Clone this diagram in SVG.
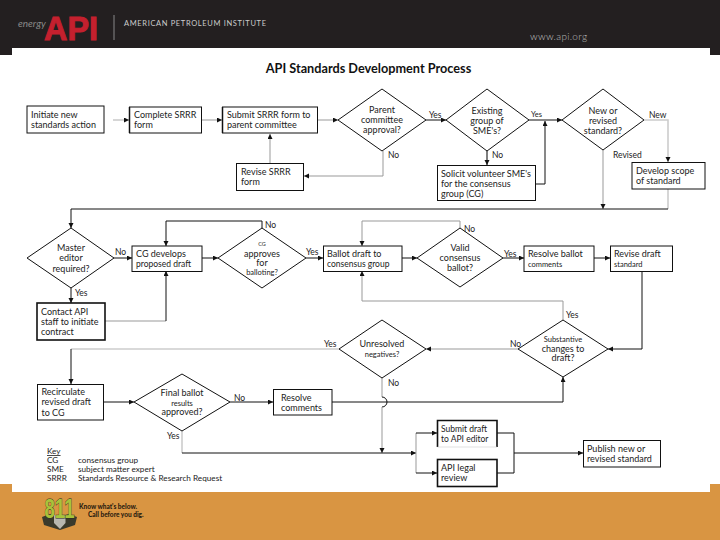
<svg xmlns="http://www.w3.org/2000/svg" width="720" height="540" viewBox="0 0 720 540">
<style>
text{font-family:"Lato","Liberation Sans",sans-serif;font-size:9px;fill:#222}
.n rect,.n polygon{fill:#fff;stroke:#111;stroke-width:1}
.n .t{stroke-width:1.6}
.m{text-anchor:middle}
.s{font-size:7.5px}
.lb{font-size:8.5px}
.k{font-size:8.2px}
#connectors path{fill:none;stroke:#111;stroke-width:1}
#connectors path.g{stroke:#999}
#connectors path.l{stroke:#ccc;stroke-width:1.6}
#connectors path.d{stroke:#555;stroke-width:1.5}
</style>
<defs>
<marker id="a" markerUnits="userSpaceOnUse" markerWidth="6" markerHeight="6" refX="5" refY="2.5" orient="auto"><path d="M0 0L5 2.500L0 5z" fill="#111"/></marker>
</defs>
<rect width="720" height="55" fill="#231f20"/>
<rect y="484" width="720" height="56" fill="#d99542"/>
<rect x="12" y="48" width="698" height="444" fill="#fff"/>
<g id="header">
<text x="18" y="27" style="font-size:10px;font-style:italic;fill:#8a8a8a">energy</text>
<text x="44" y="40" textLength="54" lengthAdjust="spacingAndGlyphs" style="font-family:'Liberation Sans',sans-serif;font-size:34px;font-weight:bold;fill:#c4202e;stroke:#c4202e;stroke-width:1px">API</text>
<path d="M114 15V40" stroke="#888" stroke-width="1"/>
<text x="124" y="26" textLength="142" style="font-size:7.500px;fill:#ccc">AMERICAN PETROLEUM INSTITUTE</text>
<text x="530" y="40" textLength="57" style="font-size:10px;font-weight:300;fill:#bbb">www.api.org</text>
</g>
<text x="368.500" y="73" class="m" style="font-size:12.700px;font-weight:bold;fill:#111">API Standards Development Process</text>
<g id="connectors">
<path class="l" d="M113 120H129" marker-end="url(#a)"/>
<path class="g" d="M202 120H222" marker-end="url(#a)"/>
<path class="g" d="M317 120H338" marker-end="url(#a)"/>
<path class="g" d="M270 163V134" marker-end="url(#a)"/>
<path class="g" d="M383 151V176H304" marker-end="url(#a)"/>
<path d="M426 120H446" marker-end="url(#a)"/>
<path d="M529 120H562" marker-end="url(#a)"/>
<path d="M536 184H545V121" marker-end="url(#a)"/>
<path class="d" d="M487 151V165" marker-end="url(#a)"/>
<path class="l" d="M644 120H668V162" marker-end="url(#a)"/>
<path class="l" d="M668 189V209"/>
<path class="g" d="M603 150V209" marker-end="url(#a)"/>
<path d="M668 209H71V228" marker-end="url(#a)"/>
<path d="M114 258H132" marker-end="url(#a)"/>
<path d="M71 288V303" marker-end="url(#a)"/>
<path class="g" d="M105 321H166"/>
<path d="M166 321V271" marker-end="url(#a)"/>
<path d="M202 258H218" marker-end="url(#a)"/>
<path d="M262 228V221H166V246" marker-end="url(#a)"/>
<path d="M306 258H323" marker-end="url(#a)"/>
<path d="M402 258H417" marker-end="url(#a)"/>
<path class="g" d="M460 228V221H362V246" marker-end="url(#a)"/>
<path d="M503 258H524" marker-end="url(#a)"/>
<path d="M594 258H610" marker-end="url(#a)"/>
<path d="M642 271V349H608" marker-end="url(#a)"/>
<path class="g" d="M563 320V301H362V271" marker-end="url(#a)"/>
<path class="g" d="M518 349H426" marker-end="url(#a)"/>
<path class="l" d="M339 349H71"/>
<path d="M71 349V384" marker-end="url(#a)"/>
<path d="M104 402H134" marker-end="url(#a)"/>
<path d="M230 402H273" marker-end="url(#a)"/>
<path d="M332 402H563V377" marker-end="url(#a)"/>
<path class="g" d="M382 378V397"/>
<path style="stroke:#111" d="M382 397A5 5 0 0 1 382 407"/>
<path class="g" d="M382 407V453" marker-end="url(#a)"/>
<path class="l" d="M182 431V453"/>
<path d="M182 453H416" marker-end="url(#a)"/>
<path class="g" d="M416 433V473"/>
<path d="M416 433H437" marker-end="url(#a)"/>
<path d="M416 473H437" marker-end="url(#a)"/>
<path d="M497 433H514V473H497"/>
<path d="M514 453H583" marker-end="url(#a)"/>
</g>
<g id="n1" class="n"><rect x="27" y="106" width="77" height="27"/><text x="31" y="118">Initiate new</text><text x="31" y="128">standards action</text></g>
<g id="n2" class="n"><rect x="129.500" y="107" width="72" height="26"/><path d="M129.500 107V133" stroke="#111" stroke-width="1.500"/><text x="134" y="118">Complete SRRR</text><text x="134" y="128">form</text></g>
<g id="n3" class="n"><rect x="222.500" y="107" width="95" height="26"/><path d="M222.500 107V133" stroke="#111" stroke-width="1.500"/><text x="227" y="118">Submit SRRR form to</text><text x="227" y="128">parent committee</text></g>
<g id="n4" class="n"><rect x="236.500" y="163.500" width="67" height="27"/><text x="241" y="175">Revise SRRR</text><text x="241" y="185">form</text></g>
<g id="n5" class="n"><polygon points="338,120 382,89 426,120 382,151"/><text x="382" y="113" class="m">Parent</text><text x="382" y="123" class="m">committee</text><text x="382" y="133" class="m">approval?</text></g>
<g id="n6" class="n"><polygon points="446,120 487,89 529,120 487,151"/><text x="487" y="114" class="m">Existing</text><text x="487" y="124" class="m">group of</text><text x="487" y="134" class="m">SME's?</text></g>
<g id="n7" class="n"><polygon points="562,120 603,89 644,120 603,150"/><text x="603" y="114" class="m">New or</text><text x="603" y="124" class="m">revised</text><text x="603" y="134" class="m">standard?</text></g>
<g id="n8" class="n"><rect x="437.500" y="165.500" width="98" height="35"/><text x="441" y="177">Solicit volunteer SME's</text><text x="441" y="187">for the consensus</text><text x="441" y="197">group (CG)</text></g>
<g id="n9" class="n"><rect x="632" y="162.500" width="73" height="26.500"/><text x="636" y="174">Develop scope</text><text x="636" y="184">of standard</text></g>
<g id="n10" class="n"><polygon points="27,258 71,228 114,258 71,288"/><text x="71" y="251" class="m">Master</text><text x="71" y="261" class="m">editor</text><text x="71" y="272" class="m">required?</text></g>
<g id="n11" class="n"><rect x="132" y="246" width="70" height="25.500"/><text x="136" y="257">CG develops</text><text x="136" y="267" style="font-size:8.500px">proposed draft</text></g>
<g id="n12" class="n"><polygon points="218,258 262,228 306,258 262,288"/><text x="262" y="246" class="m" style="font-size:5.500px">CG</text><text x="262" y="257" class="m">approves</text><text x="262" y="266" class="m">for</text><text x="262" y="275" class="m s">balloting?</text></g>
<g id="n13" class="n"><rect x="323.500" y="246" width="78.500" height="25.500"/><text x="327" y="257">Ballot draft to</text><text x="327" y="267" style="font-size:8.500px">consensus group</text></g>
<g id="n14" class="n"><polygon points="417,258 460,228 503,258 460,287"/><text x="460" y="251" class="m">Valid</text><text x="460" y="261" class="m">consensus</text><text x="460" y="271" class="m">ballot?</text></g>
<g id="n15" class="n"><rect x="524" y="246" width="70" height="25.500"/><text x="528" y="257">Resolve ballot</text><text x="528" y="267" style="font-size:7.500px">comments</text></g>
<g id="n16" class="n"><rect x="610.500" y="246" width="62" height="25.500"/><text x="614" y="257">Revise draft</text><text x="614" y="267" style="font-size:7.500px">standard</text></g>
<g id="n17" class="n"><rect x="37" y="303" width="68" height="37" class="t"/><text x="41" y="315">Contact API</text><text x="41" y="325">staff to initiate</text><text x="41" y="335">contract</text></g>
<g id="n18" class="n"><polygon points="339,349 382,320 426,349 382,378"/><text x="382" y="347" class="m">Unresolved</text><text x="382" y="357" class="m s">negatives?</text></g>
<g id="n19" class="n"><polygon points="518,349 563,320 608,349 563,377"/><text x="563" y="342" class="m s">Substantive</text><text x="563" y="352" class="m">changes to</text><text x="563" y="361" class="m">draft?</text></g>
<g id="n20" class="n"><rect x="37.500" y="384.500" width="66" height="35.500"/><text x="41.500" y="395">Recirculate</text><text x="41.500" y="405">revised draft</text><text x="41.500" y="416">to CG</text></g>
<g id="n21" class="n"><polygon points="134,402 182,374 230,402 182,431"/><text x="182" y="396" class="m">Final ballot</text><text x="182" y="405.500" class="m s">results</text><text x="182" y="415" class="m">approved?</text></g>
<g id="n22" class="n"><rect x="273.500" y="389.500" width="58.500" height="25.500"/><text x="281" y="401">Resolve</text><text x="281" y="411">comments</text></g>
<g id="n23" class="n"><path d="M437.500 447V420.500H497V447" fill="#fff" stroke="#111" stroke-width="1.600"/><path d="M437.500 447H497" stroke="#ccc" stroke-width="0.600"/><text x="441" y="432" style="font-size:8.500px">Submit draft</text><text x="441" y="442" style="font-size:8.500px">to API editor</text></g>
<g id="n24" class="n"><rect x="437.500" y="459.500" width="59.500" height="27" class="t"/><text x="441" y="471">API legal</text><text x="441" y="481">review</text></g>
<g id="n25" class="n"><rect x="583.500" y="440.500" width="77" height="26.500"/><text x="587" y="452">Publish new or</text><text x="587" y="462">revised standard</text></g>
<g id="labels">
<text class="lb" x="429" y="118">Yes</text><text class="lb" x="388" y="158">No</text>
<text class="lb" x="531" y="117" style="font-size:7.500px">Yes</text><text class="lb" x="492" y="158">No</text>
<text class="lb" x="649" y="118">New</text><text class="lb" x="613" y="158">Revised</text>
<text class="lb" x="265" y="228">No</text><text class="lb" x="115" y="255">No</text>
<text class="lb" x="306" y="255">Yes</text><text class="lb" x="75" y="296">Yes</text>
<text class="lb" x="464" y="232">No</text><text class="lb" x="504" y="257">Yes</text>
<text class="lb" x="566" y="318">Yes</text><text class="lb" x="510" y="347">No</text>
<text class="lb" x="388" y="386">No</text><text class="lb" x="324" y="347">Yes</text>
<text class="lb" x="234" y="401">No</text><text class="lb" x="167" y="439">Yes</text>
</g>
<g id="key">
<text class="k" x="47" y="454" text-decoration="underline">Key</text>
<text class="k" x="47" y="463">CG</text><text class="k" x="78" y="463">consensus group</text>
<text class="k" x="47" y="472">SME</text><text class="k" x="78" y="472">subject matter expert</text>
<text class="k" x="47" y="481">SRRR</text><text class="k" x="78" y="481">Standards Resource &amp; Research Request</text>
</g>
<g id="logo811">
<path d="M42 517L50 514L59.500 517L69 514L77 517L75 525L60 530L44 525Z" fill="#3a3a2c"/>
<path d="M54 515H65.500V523L60 529L54 523Z" fill="#b8b8b0"/>
<text x="44.500" y="518" textLength="30" lengthAdjust="spacingAndGlyphs" style="font-family:'Liberation Sans',sans-serif;font-size:28px;font-weight:bold;fill:#a8c23a;stroke:#2a2a1c;stroke-width:0.800px;paint-order:stroke">811</text>
<text x="79" y="509" style="font-size:6.500px;font-weight:900;fill:#2a2010">Know what's below.</text>
<text x="88" y="517" style="font-size:6.500px;font-weight:900;fill:#2a2010">Call before you dig.</text>
</g>
</svg>
